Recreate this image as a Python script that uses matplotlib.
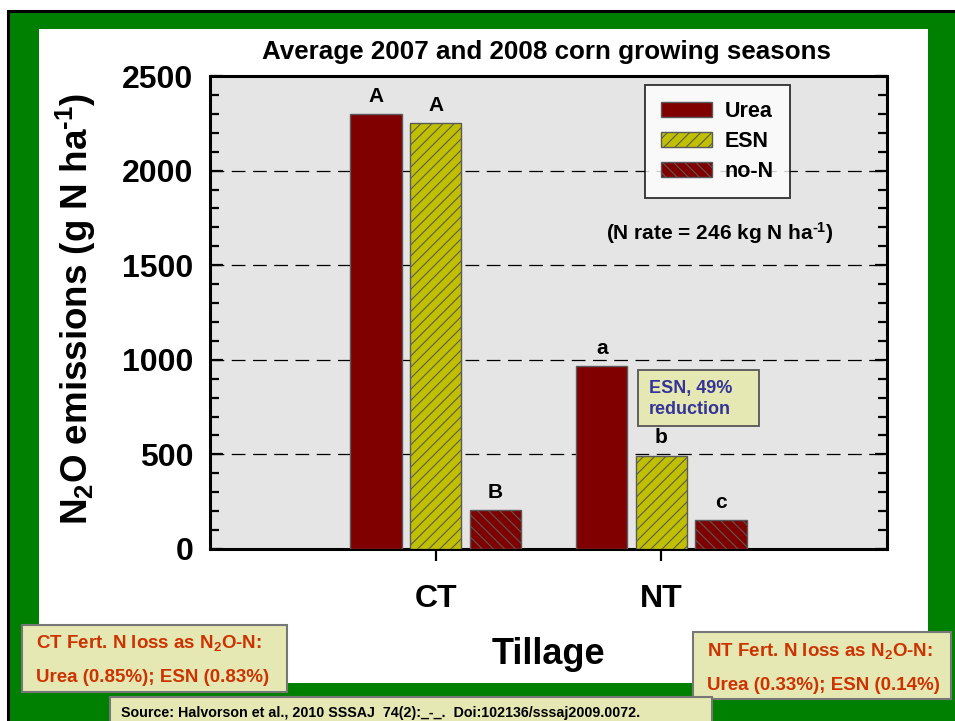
import matplotlib
matplotlib.use('Agg')
import matplotlib.pyplot as plt
from matplotlib.patches import Rectangle, Patch
from matplotlib.ticker import MultipleLocator, FixedLocator
from matplotlib import font_manager

# ---------------- data ----------------
tillage = ['CT', 'NT']
treatments = ['Urea', 'ESN', 'no-N']
urea = [2300, 965]
esn = [2250, 493]
no_n = [205, 152]
letters_urea = ['A', 'a']
letters_esn = ['A', 'b']
letters_non = ['B', 'c']
y_ticks = [0, 500, 1000, 1500, 2000, 2500]

title_text = 'Average 2007 and 2008 corn growing seasons'
ylabel_text = 'N$_2$O emissions (g N ha$^{\u20101}$)'
xlabel_text = 'Tillage'
rate_text = '(N rate = 246 kg N ha$^{\u20101}$)'
esn_note = 'ESN, 49%\nreduction'
ct_note = ['CT Fert. N loss as N$_2$O-N:', 'Urea (0.85%); ESN (0.83%)']
nt_note = ['NT Fert. N loss as N$_2$O-N:', 'Urea (0.33%); ESN (0.14%)']
source_text = 'Source: Halvorson et al., 2010 SSSAJ  74(2):_-_.  Doi:102136/sssaj2009.0072.'

# ---------------- style ----------------
plt.rcParams['font.family'] = ['Liberation Sans', 'DejaVu Sans']
plt.rcParams['font.weight'] = 'bold'
plt.rcParams['mathtext.fontset'] = 'custom'
plt.rcParams['mathtext.default'] = 'regular'
plt.rcParams['mathtext.rm'] = 'Liberation Sans:bold'
plt.rcParams['hatch.linewidth'] = 0.8

names = {f.name for f in font_manager.fontManager.ttflist}
narrow_ok = 'Liberation Sans Narrow' in names
narrow_family = ['Liberation Sans Narrow', 'Liberation Sans'] if narrow_ok else ['Liberation Sans']
note_size = 16.5 if narrow_ok else 13.5
source_size = 12.5 if narrow_ok else 10.3

DARKRED = '#800000'
YELLOW = '#C0C000'
EDGE = '#5a5a5a'
GREEN = '#008000'
PALE = '#E6E8B4'
NOTE_RED = '#CC3300'

W, H = 955, 721
fig = plt.figure(figsize=(W / 100, H / 100), dpi=100)
fig.patch.set_facecolor('white')


def frect(x0, y0, x1, y1, **kw):
    r = Rectangle((x0 / W, 1 - y1 / H), (x1 - x0) / W, (y1 - y0) / H,
                  transform=fig.transFigure, **kw)
    fig.add_artist(r)
    return r


# background frame
frect(8, 11, 965, 735, facecolor=GREEN, edgecolor='black', linewidth=2.2, zorder=0)
frect(39, 29, 928, 683, facecolor='white', edgecolor='none', zorder=0.5)

# ---------------- axes ----------------
ax = fig.add_axes([210 / W, 1 - 549 / H, 677 / W, 473 / H])
ax.set_zorder(1)
ax.set_facecolor('#E5E5E5')

xc = [1, 2]
off = 0.264
bw = 0.227
series = [(urea, DARKRED, None, letters_urea, -off),
          (esn, YELLOW, '///', letters_esn, 0.0),
          (no_n, DARKRED, '\\\\\\', letters_non, off)]
for vals, col, hatch, lets, dx in series:
    xs = [x + dx for x in xc]
    ax.bar(xs, vals, width=bw, color=col, edgecolor=EDGE, linewidth=1.0,
           hatch=hatch, zorder=3)
    for x, v, t in zip(xs, vals, lets):
        ax.annotate(t, (x, v), xytext=(0, 6), textcoords='offset points',
                    ha='center', va='bottom', fontsize=15, fontweight='bold',
                    zorder=4)

ax.set_xlim(0, 3)
ax.set_ylim(0, 2500)
ax.yaxis.set_major_locator(FixedLocator(y_ticks))
ax.yaxis.set_minor_locator(MultipleLocator(100))
ax.set_yticks(y_ticks)
ax.set_yticklabels([str(t) for t in y_ticks], fontsize=23, fontweight='bold')
ax.set_xticks(xc)
ax.set_xticklabels(tillage, fontsize=23, fontweight='bold')

for t in y_ticks[1:-1]:
    ax.axhline(t, color='black', linewidth=0.9, linestyle=(0, (11, 6)), zorder=1)

for s in ax.spines.values():
    s.set_linewidth(2.2)
ax.tick_params(axis='y', which='major', direction='in', length=9, width=1.6,
               left=True, right=True, pad=12)
ax.tick_params(axis='y', which='minor', direction='in', length=6.5, width=1.6,
               left=True, right=True)
ax.tick_params(axis='x', which='major', direction='out', length=8.5, width=1.6,
               top=False, pad=17)

# legend
handles = [Patch(facecolor=DARKRED, edgecolor=EDGE, label=treatments[0]),
           Patch(facecolor=YELLOW, edgecolor=EDGE, hatch='///', label=treatments[1]),
           Patch(facecolor=DARKRED, edgecolor=EDGE, hatch='\\\\\\', label=treatments[2])]
leg = ax.legend(handles=handles, loc='upper left',
                bbox_to_anchor=((645 - 210) / 677, (549 - 85) / 473),
                prop={'weight': 'bold', 'size': 15.5}, frameon=True, fancybox=False,
                edgecolor='black', handlelength=2.35, handleheight=0.7,
                handletextpad=0.6, labelspacing=0.42, borderpad=0.75,
                borderaxespad=0)
leg.get_frame().set_linewidth(1.3)
leg.set_zorder(5)

fig.text(720 / W, 1 - 233 / H, rate_text, ha='center', va='center',
         fontsize=15, fontweight='bold', zorder=5)

# ESN note box inside axes
frect(638, 370, 759, 426, facecolor=PALE, edgecolor='#555555', linewidth=1.3, zorder=6)
fig.text(649 / W, 1 - 399 / H, esn_note, ha='left', va='center', fontsize=13,
         fontweight='bold', color='#333399', linespacing=1.3, zorder=7)

# titles & labels
fig.text(546 / W, 1 - 52 / H, title_text, ha='center', va='center',
         fontsize=18.7, fontweight='bold')
fig.text(76 / W, 1 - 309 / H, ylabel_text, ha='center', va='center',
         rotation=90, fontsize=26.5, fontweight='bold')
fig.text(548 / W, 1 - 655 / H, xlabel_text, ha='center', va='center',
         fontsize=26, fontweight='bold', zorder=3)

# CT / NT notes
frect(22, 625, 287, 692, facecolor=PALE, edgecolor='#777777', linewidth=1.5, zorder=2)
fig.text(36 / W, 1 - 643 / H, ct_note[0], ha='left', va='center', fontsize=note_size,
         fontweight='bold', color=NOTE_RED, family=narrow_family, zorder=3)
fig.text(36 / W, 1 - 677 / H, ct_note[1], ha='left', va='center', fontsize=note_size,
         fontweight='bold', color=NOTE_RED, family=narrow_family, zorder=3)

frect(693, 632, 951, 699, facecolor=PALE, edgecolor='#777777', linewidth=1.5, zorder=2)
fig.text(707 / W, 1 - 651 / H, nt_note[0], ha='left', va='center', fontsize=note_size,
         fontweight='bold', color=NOTE_RED, family=narrow_family, zorder=3)
fig.text(707 / W, 1 - 685 / H, nt_note[1], ha='left', va='center', fontsize=note_size,
         fontweight='bold', color=NOTE_RED, family=narrow_family, zorder=3)

# source
frect(110, 697, 712, 730, facecolor=PALE, edgecolor='#777777', linewidth=1.5, zorder=2)
fig.text(121 / W, 1 - 713 / H, source_text, ha='left', va='center', fontsize=source_size,
         fontweight='bold', color='black', family=narrow_family, zorder=3)

fig.savefig('out.png', dpi=100)
